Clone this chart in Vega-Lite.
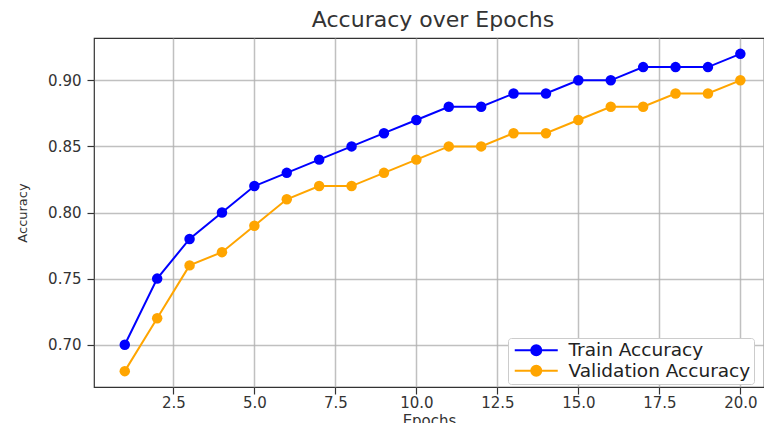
{
  "$schema": "https://vega.github.io/schema/vega-lite/v6.json",
  "autosize": {"type": "none"},
  "width": 670,
  "height": 349,
  "padding": {"left": 94, "top": 38, "right": 0, "bottom": 36},
  "background": "white",
  "title": {"text": "Accuracy over Epochs", "font": "DejaVu Sans", "fontSize": 22, "fontWeight": "normal", "color": "#333333", "anchor": "middle", "dx": 4, "offset": 6},
  "config": {
    "view": {"stroke": "#333333", "strokeWidth": 1.2},
    "axis": {"labelFont": "DejaVu Sans", "titleFont": "DejaVu Sans", "labelColor": "#333333", "titleColor": "#333333", "tickColor": "#333333", "tickWidth": 1.2, "tickSize": 7, "domain": false, "grid": true, "gridColor": "#b0b0b0", "gridWidth": 1.5, "gridOpacity": 0.8, "titleFontWeight": "normal"}
  },
  "data": {"values": [
    {"epoch": 1, "acc": 0.70, "series": "Train Accuracy"},
    {"epoch": 2, "acc": 0.75, "series": "Train Accuracy"},
    {"epoch": 3, "acc": 0.78, "series": "Train Accuracy"},
    {"epoch": 4, "acc": 0.80, "series": "Train Accuracy"},
    {"epoch": 5, "acc": 0.82, "series": "Train Accuracy"},
    {"epoch": 6, "acc": 0.83, "series": "Train Accuracy"},
    {"epoch": 7, "acc": 0.84, "series": "Train Accuracy"},
    {"epoch": 8, "acc": 0.85, "series": "Train Accuracy"},
    {"epoch": 9, "acc": 0.86, "series": "Train Accuracy"},
    {"epoch": 10, "acc": 0.87, "series": "Train Accuracy"},
    {"epoch": 11, "acc": 0.88, "series": "Train Accuracy"},
    {"epoch": 12, "acc": 0.88, "series": "Train Accuracy"},
    {"epoch": 13, "acc": 0.89, "series": "Train Accuracy"},
    {"epoch": 14, "acc": 0.89, "series": "Train Accuracy"},
    {"epoch": 15, "acc": 0.90, "series": "Train Accuracy"},
    {"epoch": 16, "acc": 0.90, "series": "Train Accuracy"},
    {"epoch": 17, "acc": 0.91, "series": "Train Accuracy"},
    {"epoch": 18, "acc": 0.91, "series": "Train Accuracy"},
    {"epoch": 19, "acc": 0.91, "series": "Train Accuracy"},
    {"epoch": 20, "acc": 0.92, "series": "Train Accuracy"},
    {"epoch": 1, "acc": 0.68, "series": "Validation Accuracy"},
    {"epoch": 2, "acc": 0.72, "series": "Validation Accuracy"},
    {"epoch": 3, "acc": 0.76, "series": "Validation Accuracy"},
    {"epoch": 4, "acc": 0.77, "series": "Validation Accuracy"},
    {"epoch": 5, "acc": 0.79, "series": "Validation Accuracy"},
    {"epoch": 6, "acc": 0.81, "series": "Validation Accuracy"},
    {"epoch": 7, "acc": 0.82, "series": "Validation Accuracy"},
    {"epoch": 8, "acc": 0.82, "series": "Validation Accuracy"},
    {"epoch": 9, "acc": 0.83, "series": "Validation Accuracy"},
    {"epoch": 10, "acc": 0.84, "series": "Validation Accuracy"},
    {"epoch": 11, "acc": 0.85, "series": "Validation Accuracy"},
    {"epoch": 12, "acc": 0.85, "series": "Validation Accuracy"},
    {"epoch": 13, "acc": 0.86, "series": "Validation Accuracy"},
    {"epoch": 14, "acc": 0.86, "series": "Validation Accuracy"},
    {"epoch": 15, "acc": 0.87, "series": "Validation Accuracy"},
    {"epoch": 16, "acc": 0.88, "series": "Validation Accuracy"},
    {"epoch": 17, "acc": 0.88, "series": "Validation Accuracy"},
    {"epoch": 18, "acc": 0.89, "series": "Validation Accuracy"},
    {"epoch": 19, "acc": 0.89, "series": "Validation Accuracy"},
    {"epoch": 20, "acc": 0.90, "series": "Validation Accuracy"}
  ]},
  "encoding": {
    "x": {"field": "epoch", "type": "quantitative", "title": "Epochs",
          "scale": {"domain": [0.05, 20.73], "nice": false, "zero": false},
          "axis": {"values": [2.5, 5, 7.5, 10, 12.5, 15, 17.5, 20], "format": ".1f", "labelFontSize": 15, "labelPadding": 1, "titleFontSize": 15, "titlePadding": 3}},
    "y": {"field": "acc", "type": "quantitative", "title": "Accuracy",
          "scale": {"domain": [0.668, 0.932], "nice": false, "zero": false},
          "axis": {"values": [0.70, 0.75, 0.80, 0.85, 0.90], "format": ".2f", "labelFontSize": 15, "labelPadding": 6, "titleFontSize": 13, "titlePadding": 18}},
    "color": {"field": "series", "type": "nominal", "title": null,
              "scale": {"domain": ["Train Accuracy", "Validation Accuracy"], "range": ["#0000ff", "#ffa500"]},
              "legend": {"orient": "none", "legendX": 414, "legendY": 300, "direction": "vertical",
                         "symbolType": "M-1.1,0H7.5M4.2,0A1,1,0,1,1,2.2,0A1,1,0,1,1,4.2,0Z",
                         "symbolSize": 100, "symbolStrokeWidth": 2, "symbolOpacity": 1,
                         "labelFont": "DejaVu Sans", "labelFontSize": 18.5, "labelColor": "#222222", "labelOffset": 39,
                         "labelLimit": 400,
                         "fillColor": "white", "strokeColor": "#cccccc", "cornerRadius": 3, "padding": 3, "rowPadding": 1.5}}
  },
  "layer": [
    {"mark": {"type": "line", "strokeWidth": 2}},
    {"mark": {"type": "point", "filled": true, "size": 110, "opacity": 1}}
  ]
}
